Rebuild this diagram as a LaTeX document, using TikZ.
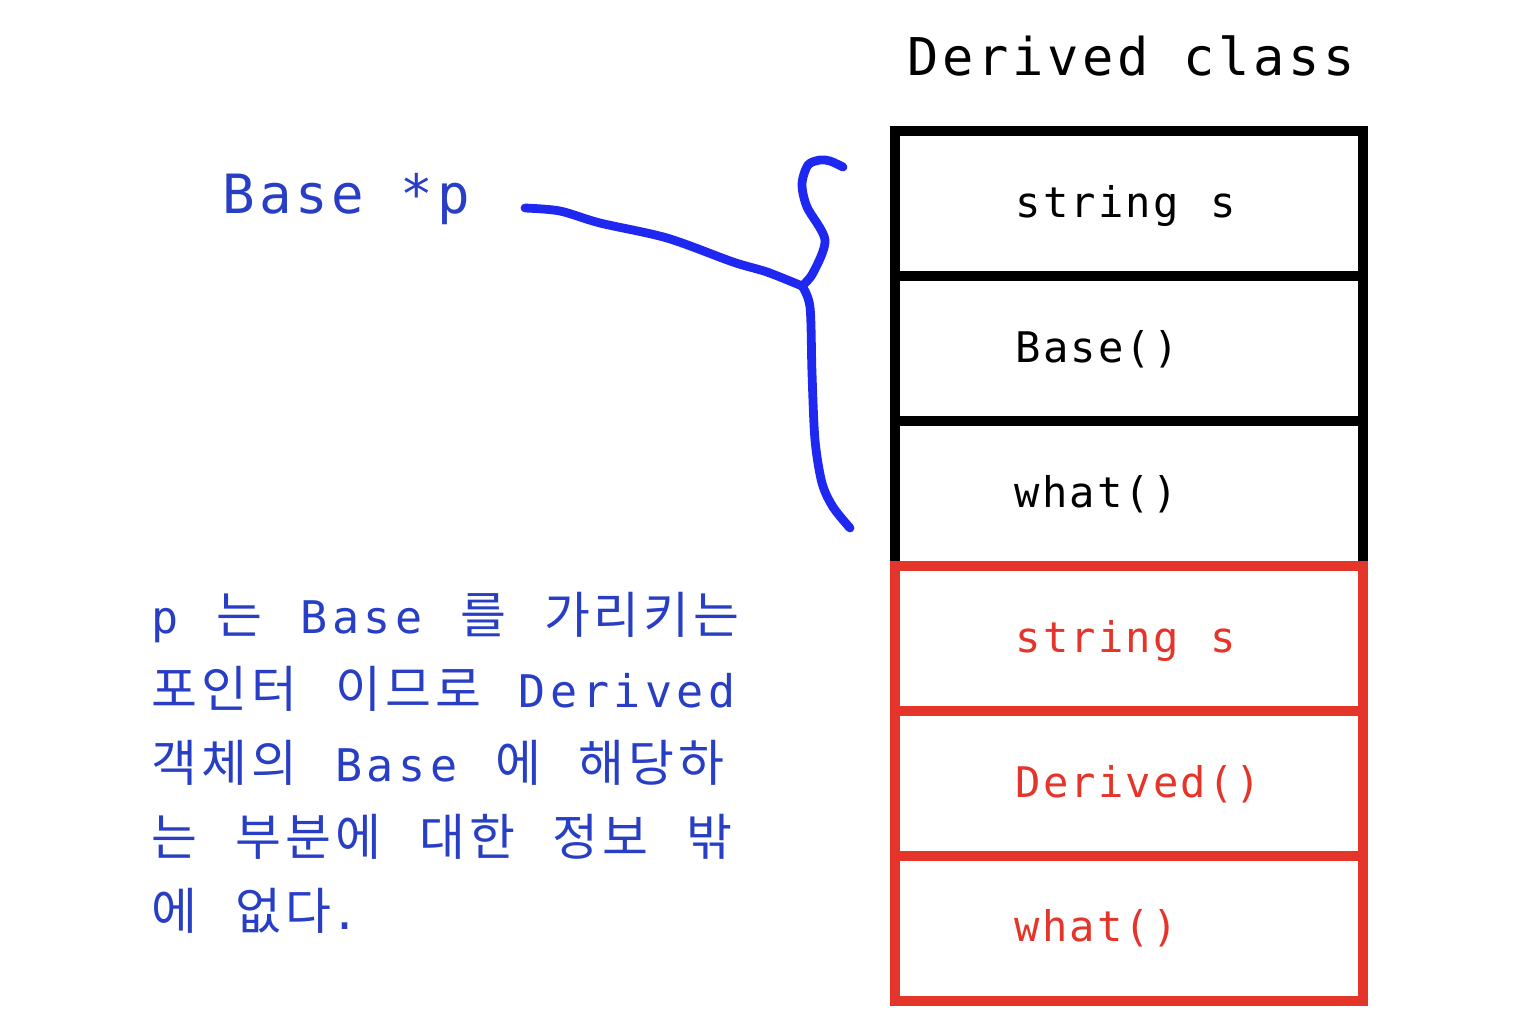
\documentclass[tikz,border=0pt]{standalone}
\usepackage{fontspec}
\usepackage{xcolor}
\usetikzlibrary{positioning, calc}
\newfontfamily\codefont[LetterSpace=5, WordSpace=1.15]{DejaVu Sans Mono}
\newfontfamily\titlefont[LetterSpace=7]{DejaVu Sans Mono}
\newfontfamily\notefont[LetterSpace=10, WordSpace=1.2]{DejaVu Sans Mono}
\newfontfamily\hangulfont[LetterSpace=8]{Noto Sans CJK KR}
\newcommand{\kr}[1]{{\fontsize{14.2pt}{16pt}\hangulfont #1}}
\definecolor{penblue}{RGB}{30,40,240}
\definecolor{noteblue}{RGB}{40,62,196}
\definecolor{boxred}{RGB}{229,53,43}

\begin{document}
\begin{tikzpicture}[
    cell/.style={draw, line width=3pt, minimum width=4.68cm, minimum height=1.45cm, inner sep=0},
    code/.style={anchor=base west, inner sep=0, font=\fontsize{12pt}{14pt}\codefont},
    note/.style={anchor=base west, inner sep=0, text=noteblue, font=\fontsize{12.8pt}{15pt}\notefont},
    pen/.style={penblue, line width=2.5pt, line cap=round, line join=round}
]
    \useasboundingbox (0,0) rectangle (15.32,-10.30);

    % object layout
    \node[anchor=base west, inner sep=0, font=\fontsize{14.8pt}{17pt}\titlefont] (title) at (9.07,-0.75) {Derived class};

    \node[cell] (b1) at (11.29,-2.035) {};
    \node[cell] (b2) at (11.29,-3.485) {};
    \node[cell] (b3) at (11.29,-4.935) {};
    \node[cell, boxred] (d1) at (11.29,-6.385) {};
    \node[cell, boxred] (d2) at (11.29,-7.835) {};
    \node[cell, boxred] (d3) at (11.29,-9.285) {};

    \node[code] (s1) at (10.15,-2.17) {string s};
    \node[code] (s2) at (10.15,-3.62) {Base()};
    \node[code] (s3) at (10.14,-5.07) {what()};
    \node[code, text=boxred] (s4) at (10.15,-6.52) {string s};
    \node[code, text=boxred] (s5) at (10.15,-7.97) {Derived()};
    \node[code, text=boxred] (s6) at (10.14,-9.41) {what()};

    % pointer
    \node[anchor=base west, inner sep=0, text=noteblue, font=\fontsize{15.4pt}{17pt}\titlefont] (ptr) at (2.22,-2.13) {Base *p};

    \coordinate (fork) at (8.02,-2.86);
    \draw[pen] plot[smooth] coordinates {(5.25,-2.08) (5.60,-2.11) (6.00,-2.23) (6.67,-2.38) (7.33,-2.62) (7.67,-2.72) (fork)};
    \draw[pen] plot[smooth] coordinates {(fork) (8.13,-2.73) (8.25,-2.40) (8.07,-2.07) (8.02,-1.84) (8.08,-1.65) (8.20,-1.60) (8.30,-1.61) (8.43,-1.67)};
    \draw[pen] plot[smooth] coordinates {(fork) (8.10,-3.07) (8.12,-3.73) (8.15,-4.40) (8.22,-4.83) (8.33,-5.07) (8.50,-5.28)};

    % explanation
    \node[note] (l1) at (1.51,-6.33) {p \kr{는} Base \kr{를} \kr{가리키는}};
    \node[note] (l2) at (1.51,-7.07) {\kr{포인터} \kr{이므로} Derived};
    \node[note] (l3) at (1.51,-7.81) {\kr{객체의} Base \kr{에} \kr{해당하}};
    \node[note] (l4) at (1.51,-8.55) {\kr{는} \kr{부분에} \kr{대한} \kr{정보} \kr{밖}};
    \node[note] (l5) at (1.51,-9.29) {\kr{에} \kr{없다}.};
\end{tikzpicture}
\end{document}
